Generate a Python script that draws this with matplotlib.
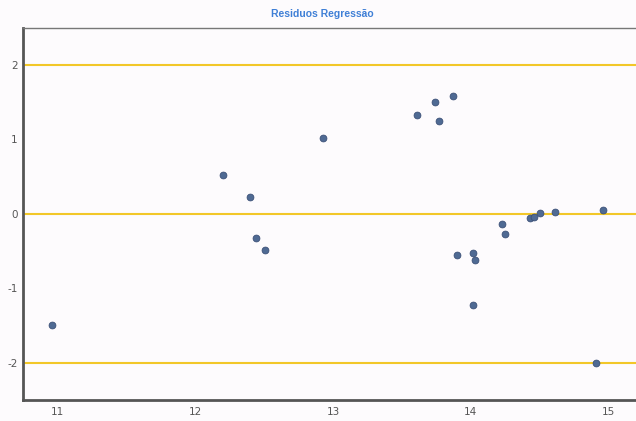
import matplotlib
matplotlib.use('Agg')
import matplotlib.pyplot as plt

plt.rcParams['axes.unicode_minus'] = False

# valores
x_vals = [10.96, 12.20, 12.40, 12.44, 12.51, 12.93, 13.61, 13.74, 13.77, 13.87,
          13.90, 14.02, 14.03, 14.02, 14.23, 14.25, 14.43, 14.46, 14.50, 14.61,
          14.96, 14.91]
residuos = [-1.49, 0.52, 0.23, -0.33, -0.48, 1.02, 1.33, 1.50, 1.25, 1.58,
            -0.55, -0.52, -0.62, -1.23, -0.13, -0.27, -0.05, -0.04, 0.01, 0.02,
            0.05, -2.00]
ref_lines = [2, 0, -2]
x_ticks = [11, 12, 13, 14, 15]
y_ticks = [-2, -1, 0, 1, 2]

fig = plt.figure(figsize=(6.36, 4.21), dpi=100, facecolor='#fdfbfd')
ax = fig.add_axes([23 / 636, 1 - 400 / 421, 1 - 23 / 636, (400 - 27.7) / 421])
ax.set_facecolor('#fdfbfd')

for y in ref_lines:
    ax.axhline(y, color='#f2c728', lw=1.5, zorder=1)

ax.scatter(x_vals, residuos, s=24, color='#4f6a93', edgecolors='#3b5077',
           linewidths=0.6, zorder=3)

ax.set_xlim(10.75, 15.2)
ax.set_ylim(-2.5, 2.5)
ax.set_xticks(x_ticks)
ax.set_yticks(y_ticks)
ax.tick_params(axis='y', length=0, labelsize=7.5, colors='#555555', pad=4)
ax.tick_params(axis='x', length=0, labelsize=7.5, colors='#555555', pad=5)

for side in ['left', 'bottom']:
    ax.spines[side].set_color('#555555')
    ax.spines[side].set_linewidth(2)
ax.spines['top'].set_color('#777777')
ax.spines['top'].set_linewidth(1)
ax.spines['right'].set_visible(False)

fig.text(0.507, 1 - 14 / 421, 'Residuos Regressão', ha='center', va='center',
         fontsize=7.5, fontweight='bold', color='#3f7fd6',
         family=['Liberation Sans', 'DejaVu Sans'])

fig.savefig('out.png', dpi=100, facecolor=fig.get_facecolor())
